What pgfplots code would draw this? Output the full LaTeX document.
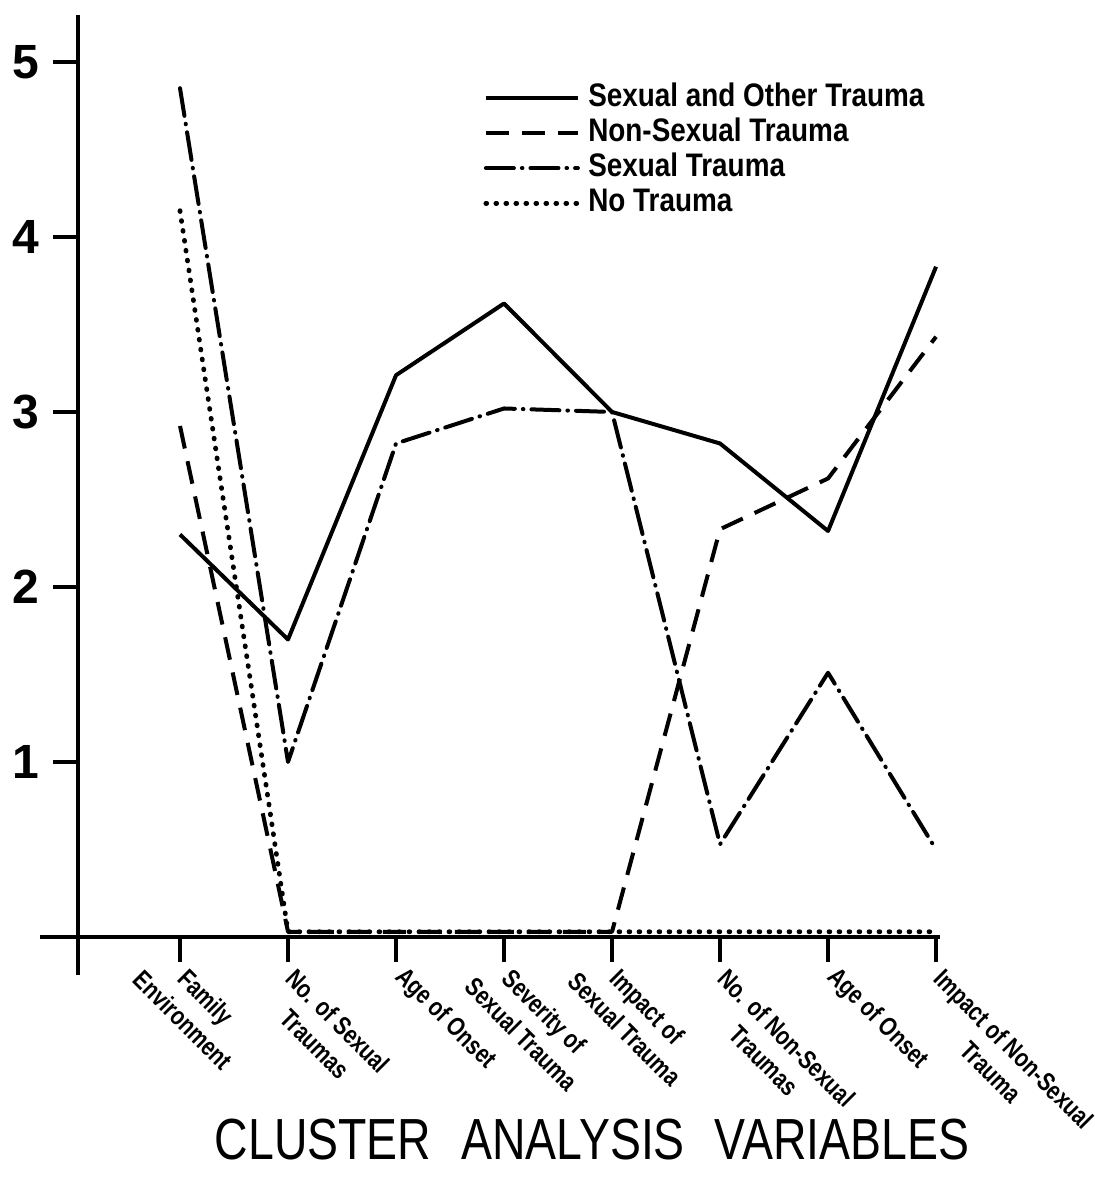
\documentclass[border=0pt]{standalone}
\usepackage{fontspec}
\setmainfont{Liberation Sans}
\newfontfamily\legfont[FakeStretch=0.855]{Liberation Sans}
\newfontfamily\titfont[FakeStretch=0.8]{Liberation Sans}
\newfontfamily\labfont[FakeStretch=0.8]{Liberation Sans}
\usepackage{pgfplots}
\pgfplotsset{compat=1.18}
\newdimen\tldim
\newcommand\tl[2]{\setbox0=\hbox{#1}\setbox2=\hbox{#2}%
\tldim=\wd2 \advance\tldim by -\wd0
\ifdim\tldim>0pt \kern-0.5\tldim\fi
\begin{tabular}[t]{@{}c@{}}#1\\#2\end{tabular}}
\begin{document}
\begin{tikzpicture}
\begin{axis}[
  x=54pt, y=87.5pt,
  xmin=-0.944, xmax=7.04, ymin=-0.217, ymax=5.27,
  axis x line=middle, axis y line=left,
  axis line style={-, line width=2pt},
  clip=false,
  xtick={0,1,2,3,4,5,6,7},
  xticklabels={{\tl{Family}{Environment}},{\tl{No. of Sexual}{Traumas}},{Age of Onset},{\tl{Severity of}{Sexual Trauma}},{\tl{Impact of}{Sexual Trauma}},{\tl{No. of Non-Sexual}{Traumas}},{Age of Onset},{\tl{Impact of Non-Sexual}{Trauma}}},
  ytick={1,2,3,4,5},
  tick align=outside,
  major tick length=12.5pt,
  tick style={line width=2pt, black},
  /pgf/number format/assume math mode=true,
  yticklabel style={font=\fontsize{24}{24}\selectfont\bfseries, xshift=-3.5pt},
  xticklabel style={font=\labfont\fontsize{13}{16}\selectfont\bfseries, rotate=-45, anchor=north west, inner sep=0pt, xshift=5pt, yshift=3.5pt},
  legend style={draw=none, fill=none, at={(axis cs:2.806,4.884)}, anchor=north west,
    font=\legfont\fontsize{16.3}{17.5}\selectfont\bfseries,
    row sep=2pt, inner sep=0pt,
    nodes={inner sep=0pt, text height=12pt, text depth=3.5pt},
    /tikz/every odd column/.append style={column sep=4pt}},
  legend cell align=left,
  legend image code/.code={\draw[#1] (0pt,0pt) -- (46pt,0pt);},
]
\addplot[line width=2pt, black, line join=round] coordinates {(0,2.3)(1,1.7)(2,3.21)(3,3.62)(4,3.0)(5,2.82)(6,2.32)(7,3.83)};
\addlegendentry{Sexual and Other Trauma}
\addplot[line width=2pt, black, line join=round, dash pattern=on 11.5pt off 6.5pt] coordinates {(0,2.92)(1,0.03)(2,0.03)(3,0.03)(4,0.03)(5,2.33)(6,2.62)(7,3.43)};
\addlegendentry{Non-Sexual Trauma}
\addplot[line width=2pt, black, line join=round, line cap=round, dash pattern=on 14pt off 4pt on 0.3pt off 4pt] coordinates {(0,4.85)(1,1.0)(2,2.82)(3,3.02)(4,3.0)(5,0.53)(6,1.51)(7,0.5)};
\addlegendentry{Sexual Trauma}
\addplot[line width=2.4pt, black, line join=round, line cap=round, dash pattern=on 0.4pt off 4.6pt] coordinates {(0,4.15)(1,0.03)(2,0.03)(3,0.03)(4,0.03)(5,0.03)(6,0.03)(7,0.03)};
\addlegendentry{No Trauma}
\draw[line width=2pt] (axis cs:-1.296,0) -- (axis cs:-0.944,0);
\node[font=\titfont\fontsize{29}{29}\selectfont, anchor=base] at (axis cs:3.815,-1.274) {CLUSTER\hspace{15pt}ANALYSIS\hspace{15pt}VARIABLES};
\coordinate (bbA) at (axis cs:-1.6667,5.354);
\coordinate (bbB) at (axis cs:8.463,-1.457);
\end{axis}
\pgfresetboundingbox
\path[use as bounding box] (bbA) rectangle (bbB);
\end{tikzpicture}
\end{document}
